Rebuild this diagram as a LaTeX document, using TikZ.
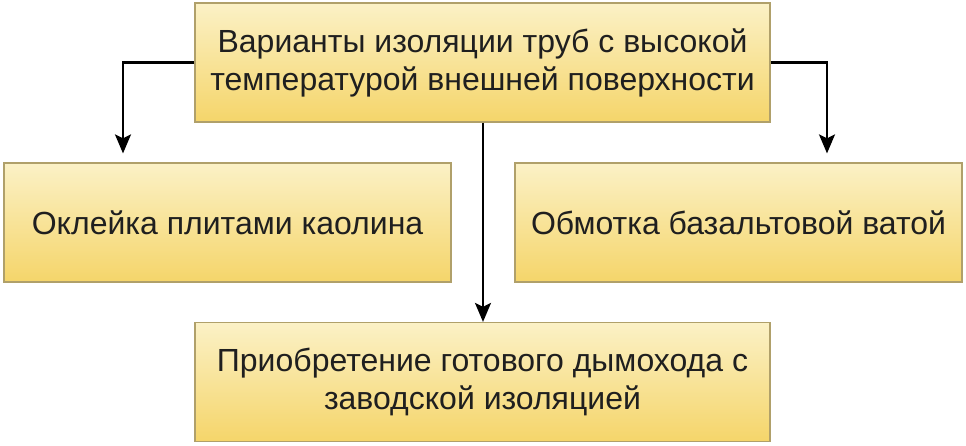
\documentclass[tikz,border=0pt]{standalone}
\usepackage{fontspec}
\setmainfont{Liberation Sans}
\usetikzlibrary{arrows.meta}
\definecolor{boxtop}{HTML}{FBF1C6}
\definecolor{boxbot}{HTML}{F5D56A}
\definecolor{boxline}{HTML}{B0A06A}
\tikzset{
  box/.style={draw=boxline, line width=1.2pt, top color=boxtop, bottom color=boxbot,
    minimum width=#1, minimum height=119pt, align=center, inner sep=0pt,
    font=\fontsize{32}{38}\selectfont, text=black!88},
  conn/.style={line width=2.2pt, -{Stealth[length=19pt,width=16pt,inset=4pt]}}
}
\begin{document}
\begin{tikzpicture}[x=1pt,y=-1pt]
\useasboundingbox (0,0) rectangle (966,446);
\fill[white] (0,0) rectangle (966,446);
\node[box=575pt] (top) at (482.5,62.5) {Варианты изоляции труб с высокой\\температурой внешней поверхности};
\node[box=447pt] (left) at (227.5,222.5) {Оклейка плитами каолина};
\node[box=447pt] (right) at (738.5,222.5) {Обмотка базальтовой ватой};
\node[box=575pt] (bot) at (482.5,382) {Приобретение готового дымохода с\\заводской изоляцией};
\coordinate (lc) at (123,62.5);
\coordinate (rc) at (827,62.5);
\draw[conn] (top.west) -- (lc) -- ([yshift=9pt]lc |- left.north);
\draw[conn] (top.east) -- (rc) -- ([yshift=9pt]rc |- right.north);
\draw[conn] (top.south -| 483,0) -- (bot.north -| 483,0);
\end{tikzpicture}
\end{document}
